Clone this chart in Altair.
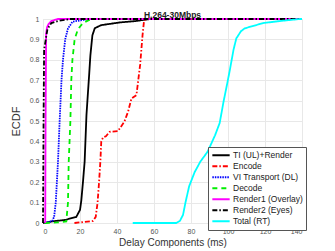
import altair as alt
import pandas as pd

series_names = ["TI (UL)+Render", "Encode", "VI Transport (DL)", "Decode",
                "Render1 (Overlay)", "Render2 (Eyes)", "Total (RT)"]
series_colors = ["#000000", "#ff0000", "#0000ff", "#00ee00", "#ff00ff", "#000000", "#00ffff"]
series_dashes = [[1, 0], [5, 2, 1.5, 2], [1.5, 1], [5, 4], [1, 0], [5, 2, 1.5, 2], [1, 0]]

ti_ms = [0, 5, 12, 18, 20, 20.7, 21.6, 22.5, 23.5, 24.9, 25.6, 26.7, 28, 31.5, 41.5, 50, 58, 140]
ti_f = [0, 0.008, 0.015, 0.03, 0.064, 0.11, 0.2, 0.3, 0.53, 0.72, 0.82, 0.92, 0.955, 0.97, 0.983, 0.99, 1.0, 1.0]

enc_ms = [17, 27, 28.5, 29.5, 30.3, 31, 31.5, 32.5, 34, 36, 40.5, 44, 46, 47.8, 50.5, 52.5, 53.8, 54.6, 55.5, 140]
enc_f = [0, 0.01, 0.03, 0.1, 0.2, 0.3, 0.4, 0.42, 0.425, 0.447, 0.45, 0.497, 0.546, 0.61, 0.627, 0.775, 0.92, 0.99, 1.0, 1.0]

vi_ms = [1, 3, 5, 6, 6.9, 8.1, 9, 10, 10.8, 12, 13.5, 16, 20, 25, 140]
vi_f = [0, 0.005, 0.01, 0.03, 0.1, 0.3, 0.5, 0.7, 0.8, 0.9, 0.954, 0.987, 0.993, 1.0, 1.0]

dec_ms = [1, 8, 12.6, 13.5, 13.9, 14.8, 15.3, 15.9, 17.1, 18.9, 21.6, 26, 140]
dec_f = [0, 0.003, 0.008, 0.1, 0.3, 0.5, 0.7, 0.8, 0.9, 0.95, 0.98, 1.0, 1.0]

r1_ms = [1.2, 1.4, 1.7, 2.2, 3, 4.5, 8, 140]
r1_f = [0, 0.5, 0.93, 0.96, 0.975, 0.99, 1.0, 1.0]

r2_ms = [0, 0.3, 0.6, 1.5, 2.4, 4.5, 8, 14.4, 140]
r2_f = [0, 0.5, 0.85, 0.9, 0.95, 0.98, 0.99, 1.0, 1.0]

tot_ms = [48.5, 72, 74, 75.7, 77, 79, 82, 85, 89, 93, 95.5, 97.7, 99.5, 101, 103, 104.5, 107, 109, 119, 128, 139, 140]
tot_f = [0, 0, 0.01, 0.04, 0.1, 0.18, 0.25, 0.3, 0.35, 0.43, 0.49, 0.6, 0.68, 0.75, 0.85, 0.905, 0.94, 0.954, 0.98, 0.99, 1.0, 1.0]

x_ticks = [0, 20, 40, 60, 80, 100, 120, 140]
y_ticks = [0, 0.1, 0.2, 0.3, 0.4, 0.5, 0.6, 0.7, 0.8, 0.9, 1]

all_series = [(ti_ms, ti_f), (enc_ms, enc_f), (vi_ms, vi_f), (dec_ms, dec_f),
              (r1_ms, r1_f), (r2_ms, r2_f), (tot_ms, tot_f)]
rows = []
for name, (xs, ys) in zip(series_names, all_series):
    for i, (x, y) in enumerate(zip(xs, ys)):
        rows.append({"series": name, "ms": x, "F": y, "idx": i})
df = pd.DataFrame(rows)

legend_opts = dict(title=None, orient="none", legendX=165, legendY=128,
                   symbolType="stroke", symbolSize=300,
                   symbolStrokeWidth=2, labelFontSize=8.5,
                   labelColor="#222222", rowPadding=0, clipHeight=10.5,
                   padding=3, fillColor="white",
                   strokeColor="#555555", labelOffset=2)

chart = alt.Chart(df).mark_line(strokeWidth=1.8).encode(
    x=alt.X("ms:Q", scale=alt.Scale(domain=[0, 140], nice=False),
            axis=alt.Axis(values=x_ticks, title="Delay Components (ms)", grid=True,
                          labelFontSize=7, titleFontSize=10, labelColor="#555555",
                          titleColor="#333333", titleFontWeight="normal",
                          tickSize=0, labelPadding=4, titlePadding=3,
                          domain=False, gridColor="#e8e8e8")),
    y=alt.Y("F:Q", scale=alt.Scale(domain=[0, 1], nice=False),
            axis=alt.Axis(values=y_ticks, title="ECDF", grid=True,
                          labelFontSize=7, titleFontSize=11, labelColor="#555555",
                          titleColor="#333333", titleFontWeight="normal",
                          tickSize=0, labelPadding=4, titlePadding=8,
                          domain=False, gridColor="#e8e8e8",
                          labelExpr="format(datum.value, '.1~f')")),
    color=alt.Color("series:N", sort=series_names,
                    scale=alt.Scale(domain=series_names, range=series_colors),
                    legend=alt.Legend(**legend_opts)),
    strokeDash=alt.StrokeDash("series:N", sort=series_names,
                              scale=alt.Scale(domain=series_names, range=series_dashes),
                              legend=alt.Legend(**legend_opts)),
    order="idx:Q",
).properties(
    width=259, height=204,
    title=alt.TitleParams("H.264-30Mbps", fontSize=8.5, fontWeight="bold", offset=2,
                          dy=6, frame="group", color="#222222"),
    autosize=alt.AutoSizeParams(type="none"),
    padding={"left": 35, "top": 11, "right": 20, "bottom": 28},
).configure_view(stroke="#555555", strokeWidth=1).configure(font="Liberation Sans")

chart.save("out.html", embed_options={"renderer": "svg", "actions": False})
